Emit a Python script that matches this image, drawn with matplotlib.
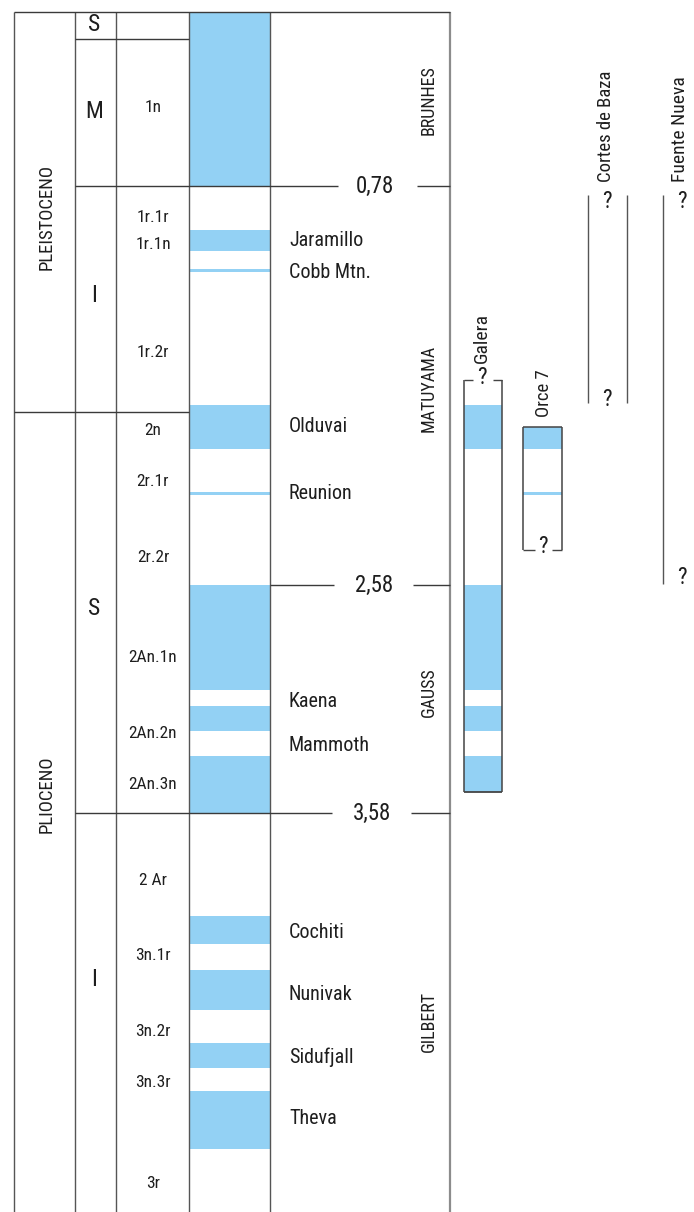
import numpy as np
import matplotlib
matplotlib.use('Agg')
import matplotlib.pyplot as plt

# ---------------- data (ages in Ma) ----------------
normal_starts = [0.0, 0.98, 1.155, 1.77, 2.16, 2.58, 3.11, 3.33, 4.03, 4.27, 4.59, 4.80]
normal_ends = [0.78, 1.075, 1.168, 1.965, 2.175, 3.04, 3.22, 3.58, 4.155, 4.445, 4.70, 5.055]

chron_names = ['BRUNHES', 'MATUYAMA', 'GAUSS', 'GILBERT']
chron_label_ages = [0.396, 1.691, 3.049, 4.496]
chron_boundaries = [0.78, 2.58, 3.58]
boundary_labels = ['0,78', '2,58', '3,58']

subchron_names = ['Jaramillo', 'Cobb Mtn.', 'Olduvai', 'Reunion', 'Kaena', 'Mammoth',
                  'Cochiti', 'Nunivak', 'Sidufjall', 'Theva']
subchron_label_ages = [1.024, 1.168, 1.867, 2.165, 3.089, 3.286, 4.106, 4.378, 4.65, 4.918]

chron_codes = ['1n', '1r.1r', '1r.1n', '1r.2r', '2n', '2r.1r', '2r.2r', '2An.1n', '2An.2n',
               '2An.3n', '2 Ar', '3n.1r', '3n.2r', '3n.3r', '3r']
chron_code_ages = [0.431, 0.92, 1.042, 1.533, 1.885, 2.115, 2.454, 2.90, 3.233, 3.457,
                   3.874, 4.207, 4.54, 4.764, 5.207]

epochs = ['PLEISTOCENO', 'PLIOCENO']
epoch_label_ages = [0.92, 3.499]
epoch_boundary = 1.80

subdivisions = ['S', 'M', 'I', 'S', 'I']
subdivision_ages = [0.06, 0.449, 1.276, 2.681, 4.309]
upper_middle_boundary = 0.125

sections = ['Galera', 'Orce 7', 'Cortes de Baza', 'Fuente Nueva']
galera_range = (1.655, 3.489)
galera_normal_starts = [1.77, 2.58, 3.11, 3.33]
galera_normal_ends = [1.965, 3.04, 3.22, 3.489]
orce_range = (1.866, 2.422)
orce_normal_starts = [1.866, 2.16]
orce_normal_ends = [1.965, 2.175]
cortes_range = (0.82, 1.759)
fuente_range = (0.82, 2.575)

# ---------------- styling / layout ----------------
BLUE = '#93d1f4'
LINE = '#3a3a3a'
VLINE = '#555555'
TXT = '#1e1e1e'
FONT = ['Liberation Sans Narrow', 'Roboto Condensed', 'DejaVu Sans']
plt.rcParams['font.family'] = FONT
plt.rcParams['font.stretch'] = 'condensed'
TK = dict(color=TXT, fontstretch='condensed')

# piecewise-linear time scale (age -> vertical position)
cal_age = np.array([-1.0, 0.0, 0.78, 2.58, 3.58, 7.0])
cal_pos = np.array([11.5 - 223.7, 11.5, 186.0, 585.0, 813.0, 813.0 + 3.42 * 228.0])


def fwd(a):
    return np.interp(np.asarray(a, dtype=float), cal_age, cal_pos)


def inv(p):
    return np.interp(np.asarray(p, dtype=float), cal_pos, cal_age)


fig = plt.figure(figsize=(6.94, 12.12), dpi=100)
ax = fig.add_axes([0, 0, 1, 1])
ax.set_yscale('function', functions=(fwd, inv))
age_top = float(inv(0.0))
age_bot = float(inv(1212.0))
ax.set_xlim(0, 694)
ax.set_ylim(age_bot, age_top)
ax.axis('off')

# column x positions
X_EPOCH_L, X_SUB_L, X_CODE_L, X_POL_L, X_POL_R, X_RIGHT = 14, 75, 116, 189, 270, 450
col_bottom = age_bot

# polarity bars
ax.bar(x=(X_POL_L + X_POL_R) / 2, height=np.subtract(normal_ends, normal_starts),
       bottom=normal_starts, width=X_POL_R - X_POL_L, color=BLUE, linewidth=0, zorder=1)

# vertical column lines
for xv in [X_EPOCH_L, X_SUB_L, X_CODE_L, X_POL_L, X_POL_R]:
    ax.vlines(xv, 0.0, col_bottom, color=VLINE, lw=1.0, zorder=3)
ax.vlines(X_RIGHT, 0.0, col_bottom, color='#8c8c8c', lw=1.6, zorder=3)

# top border
ax.hlines(0.0, X_EPOCH_L, X_RIGHT, color=LINE, lw=1.0, zorder=3)
# sub-epoch and epoch boundaries
ax.hlines(upper_middle_boundary, X_SUB_L, X_POL_L, color=LINE, lw=1.0, zorder=3)
ax.hlines(epoch_boundary, X_EPOCH_L, X_POL_L, color=LINE, lw=1.0, zorder=3)

# chron boundaries with labels
b_start = [X_SUB_L, X_POL_R, X_SUB_L]
b_gap_l = [338, 334, 332]
b_gap_r = [417, 413, 411]
b_text_x = [375, 374, 372]
for age, lab, xs, gl, gr, tx in zip(chron_boundaries, boundary_labels, b_start, b_gap_l, b_gap_r, b_text_x):
    ax.hlines(age, xs, gl, color=LINE, lw=1.0, zorder=3)
    ax.hlines(age, gr, X_RIGHT, color=LINE, lw=1.0, zorder=3)
    ax.text(tx, age, lab, ha='center', va='center', fontsize=16.5, **TK)

# epoch labels
for name, age in zip(epochs, epoch_label_ages):
    ax.text(47, age, name, rotation=90, ha='center', va='center', fontsize=13.5, **TK)

# subdivision labels
for name, age in zip(subdivisions, subdivision_ages):
    ax.text(94, age, name, ha='center', va='center', fontsize=17, **TK)

# chron codes
for name, age in zip(chron_codes, chron_code_ages):
    ax.text(153, age, name, ha='center', va='center', fontsize=12.5, **TK)

# subchron names
for name, age in zip(subchron_names, subchron_label_ages):
    ax.text(289, age, name, ha='left', va='center', fontsize=14.5, **TK)

# chron names
for name, age in zip(chron_names, chron_label_ages):
    ax.text(429, age, name, rotation=90, ha='center', va='center', fontsize=13, **TK)

# ---------------- sections ----------------
BOX = '#444444'
QS = 16.5
# Galera
gl_x0, gl_x1 = 464, 502
ax.bar(x=(gl_x0 + gl_x1) / 2, height=np.subtract(galera_normal_ends, galera_normal_starts),
       bottom=galera_normal_starts, width=gl_x1 - gl_x0, color=BLUE, linewidth=0, zorder=1)
ax.vlines([gl_x0, gl_x1], galera_range[0], galera_range[1], color=BOX, lw=1.1, zorder=3)
ax.hlines(galera_range[1], gl_x0, gl_x1, color=BOX, lw=1.3, zorder=3)
ax.hlines(galera_range[0], gl_x0, 473, color=BOX, lw=1.0, zorder=3)
ax.hlines(galera_range[0], 493, gl_x1, color=BOX, lw=1.0, zorder=3)
ax.text(482, galera_range[0] - 0.01, '?', ha='center', va='center', fontsize=QS, **TK)
ax.text(482, 1.578, sections[0], rotation=90, ha='center', va='bottom', fontsize=14, **TK)

# Orce 7
or_x0, or_x1 = 523, 562
ax.bar(x=(or_x0 + or_x1) / 2, height=np.subtract(orce_normal_ends, orce_normal_starts),
       bottom=orce_normal_starts, width=or_x1 - or_x0, color=BLUE, linewidth=0, zorder=1)
ax.vlines([or_x0, or_x1], orce_range[0], orce_range[1], color=BOX, lw=1.1, zorder=3)
ax.hlines(orce_range[0], or_x0, or_x1, color=BOX, lw=1.1, zorder=3)
ax.hlines(orce_range[1], or_x0, 535, color=BOX, lw=1.0, zorder=3)
ax.hlines(orce_range[1], 552, or_x1, color=BOX, lw=1.0, zorder=3)
ax.text(543, orce_range[1] - 0.014, '?', ha='center', va='center', fontsize=QS, **TK)
ax.text(544, 1.822, sections[1], rotation=90, ha='center', va='bottom', fontsize=13.5, **TK)

# Cortes de Baza
ax.vlines([588, 627], cortes_range[0], cortes_range[1], color='#555555', lw=1.0, zorder=3)
ax.text(607, cortes_range[0] + 0.028, '?', ha='center', va='center', fontsize=QS, **TK)
ax.text(607, cortes_range[1] - 0.018, '?', ha='center', va='center', fontsize=QS, **TK)
ax.text(606, 0.762, sections[2], rotation=90, ha='center', va='bottom', fontsize=13.5, **TK)

# Fuente Nueva
ax.vlines(663, fuente_range[0], fuente_range[1], color='#555555', lw=1.0, zorder=3)
ax.text(682, fuente_range[0] + 0.028, '?', ha='center', va='center', fontsize=QS, **TK)
ax.text(682, fuente_range[1] - 0.031, '?', ha='center', va='center', fontsize=QS, **TK)
ax.text(680, 0.762, sections[3], rotation=90, ha='center', va='bottom', fontsize=14, **TK)

fig.savefig('out.png', dpi=100, facecolor='white')
